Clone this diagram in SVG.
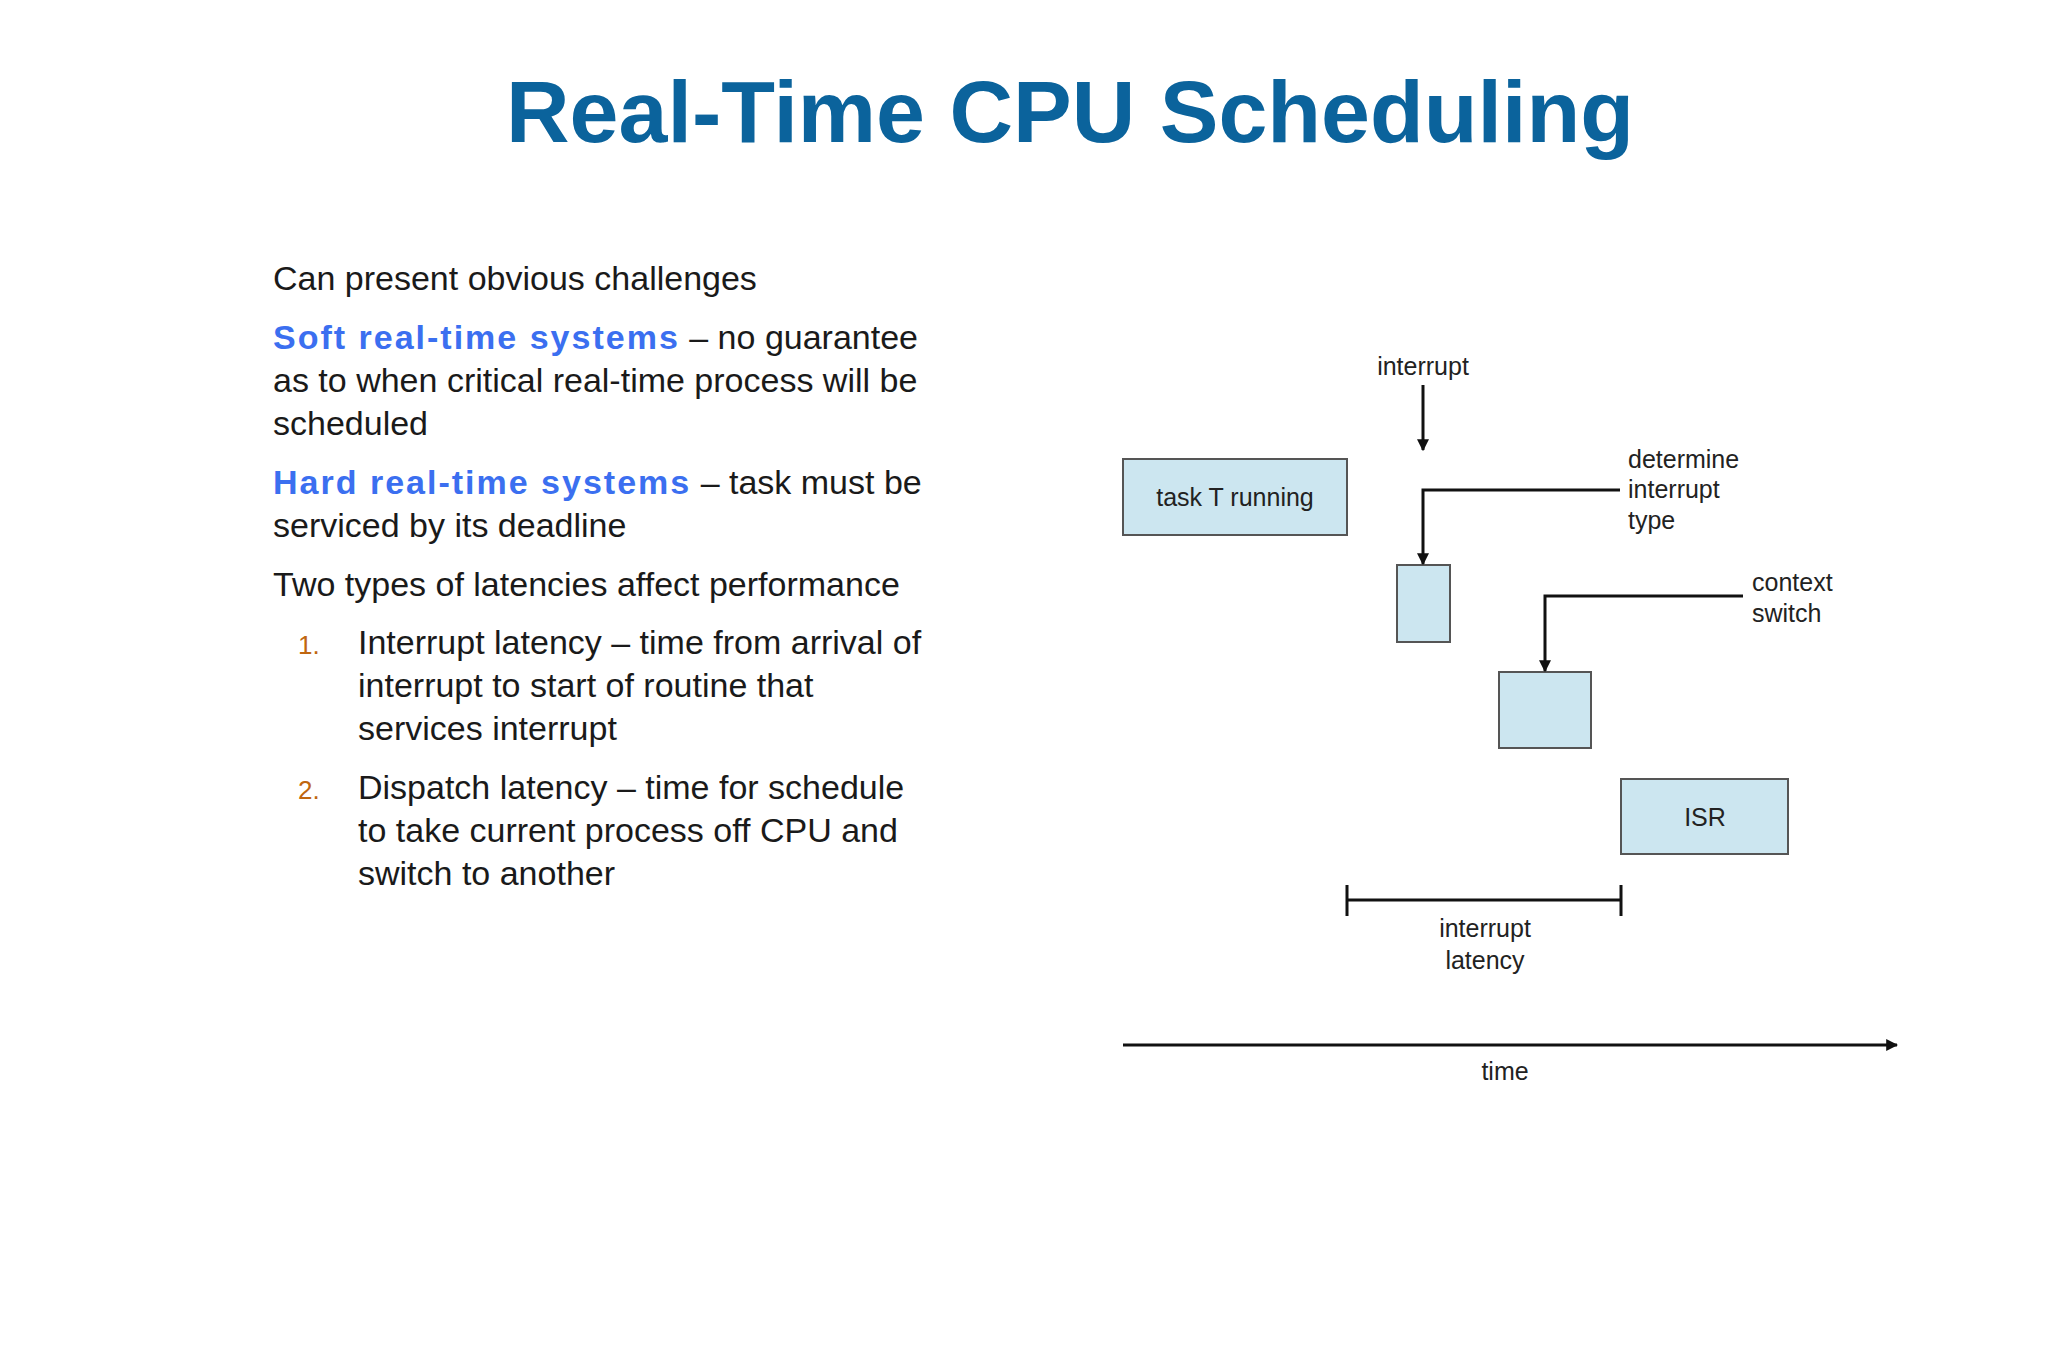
<svg xmlns="http://www.w3.org/2000/svg" width="2048" height="1365" viewBox="0 0 2048 1365">
<style>
.b{font-family:"Liberation Sans",Arial,sans-serif;font-size:34px;fill:#1a1a1a}
.k{font-weight:bold;fill:#3b6ff0;letter-spacing:2px}
.n{font-family:"Liberation Sans",Arial,sans-serif;font-size:26px;fill:#c0660f}
.d{font-family:"Liberation Sans",Arial,sans-serif;font-size:25px;fill:#222}
.box{fill:#cce6f0;stroke:#555;stroke-width:2}
.ln{stroke:#111;stroke-width:3;fill:none}
</style>
<defs>
<marker id="ah" viewBox="0 0 10 10" refX="9" refY="5" markerWidth="4" markerHeight="4" orient="auto"><path d="M0,0L10,5L0,10z" fill="#111"/></marker>
<clipPath id="cp"><rect x="0" y="0" width="948" height="1365"/></clipPath>
</defs>
<rect width="2048" height="1365" fill="#fff"/>
<text x="1070" y="142" text-anchor="middle" font-family="Liberation Sans,Arial,sans-serif" font-weight="bold" font-size="88" fill="#0b639c">Real-Time CPU Scheduling</text>
<g clip-path="url(#cp)">
<text class="b" x="273" y="290">Can present obvious challenges</text>
<text class="b" x="273" y="349"><tspan class="k">Soft real-time systems</tspan> – no guarantee</text>
<text class="b" x="273" y="392">as to when critical real-time process will be</text>
<text class="b" x="273" y="435">scheduled</text>
<text class="b" x="273" y="494"><tspan class="k">Hard real-time systems</tspan> – task must be</text>
<text class="b" x="273" y="537">serviced by its deadline</text>
<text class="b" x="273" y="596">Two types of latencies affect performance</text>
<text class="n" x="298" y="654">1.</text>
<text class="b" x="358" y="654">Interrupt latency – time from arrival of</text>
<text class="b" x="358" y="697">interrupt to start of routine that</text>
<text class="b" x="358" y="740">services interrupt</text>
<text class="n" x="298" y="799">2.</text>
<text class="b" x="358" y="799">Dispatch latency – time for schedule</text>
<text class="b" x="358" y="842">to take current process off CPU and</text>
<text class="b" x="358" y="885">switch to another</text>
</g>
<g id="task"><rect class="box" x="1123" y="459" width="224" height="76"/><text class="d" x="1235" y="506" text-anchor="middle">task T running</text></g>
<g id="det"><rect class="box" x="1397" y="565" width="53" height="77"/></g>
<g id="ctx"><rect class="box" x="1499" y="672" width="92" height="76"/></g>
<g id="isr"><rect class="box" x="1621" y="779" width="167" height="75"/><text class="d" x="1705" y="826" text-anchor="middle">ISR</text></g>
<g id="labels">
<text class="d" x="1423" y="375" text-anchor="middle">interrupt</text>
<text class="d" x="1628" y="468">determine</text>
<text class="d" x="1628" y="498">interrupt</text>
<text class="d" x="1628" y="529">type</text>
<text class="d" x="1752" y="591">context</text>
<text class="d" x="1752" y="622">switch</text>
<text class="d" x="1485" y="937" text-anchor="middle">interrupt</text>
<text class="d" x="1485" y="969" text-anchor="middle">latency</text>
<text class="d" x="1505" y="1080" text-anchor="middle">time</text>
</g>
<g id="connectors">
<path class="ln" d="M1423,385V450" marker-end="url(#ah)"/>
<path class="ln" d="M1620,490H1423V564" marker-end="url(#ah)"/>
<path class="ln" d="M1743,596H1545V671" marker-end="url(#ah)"/>
<path class="ln" d="M1347,900H1621M1347,885V916M1621,885V916" stroke-width="2"/>
<path class="ln" d="M1123,1045H1897" marker-end="url(#ah)"/>
</g>
</svg>
